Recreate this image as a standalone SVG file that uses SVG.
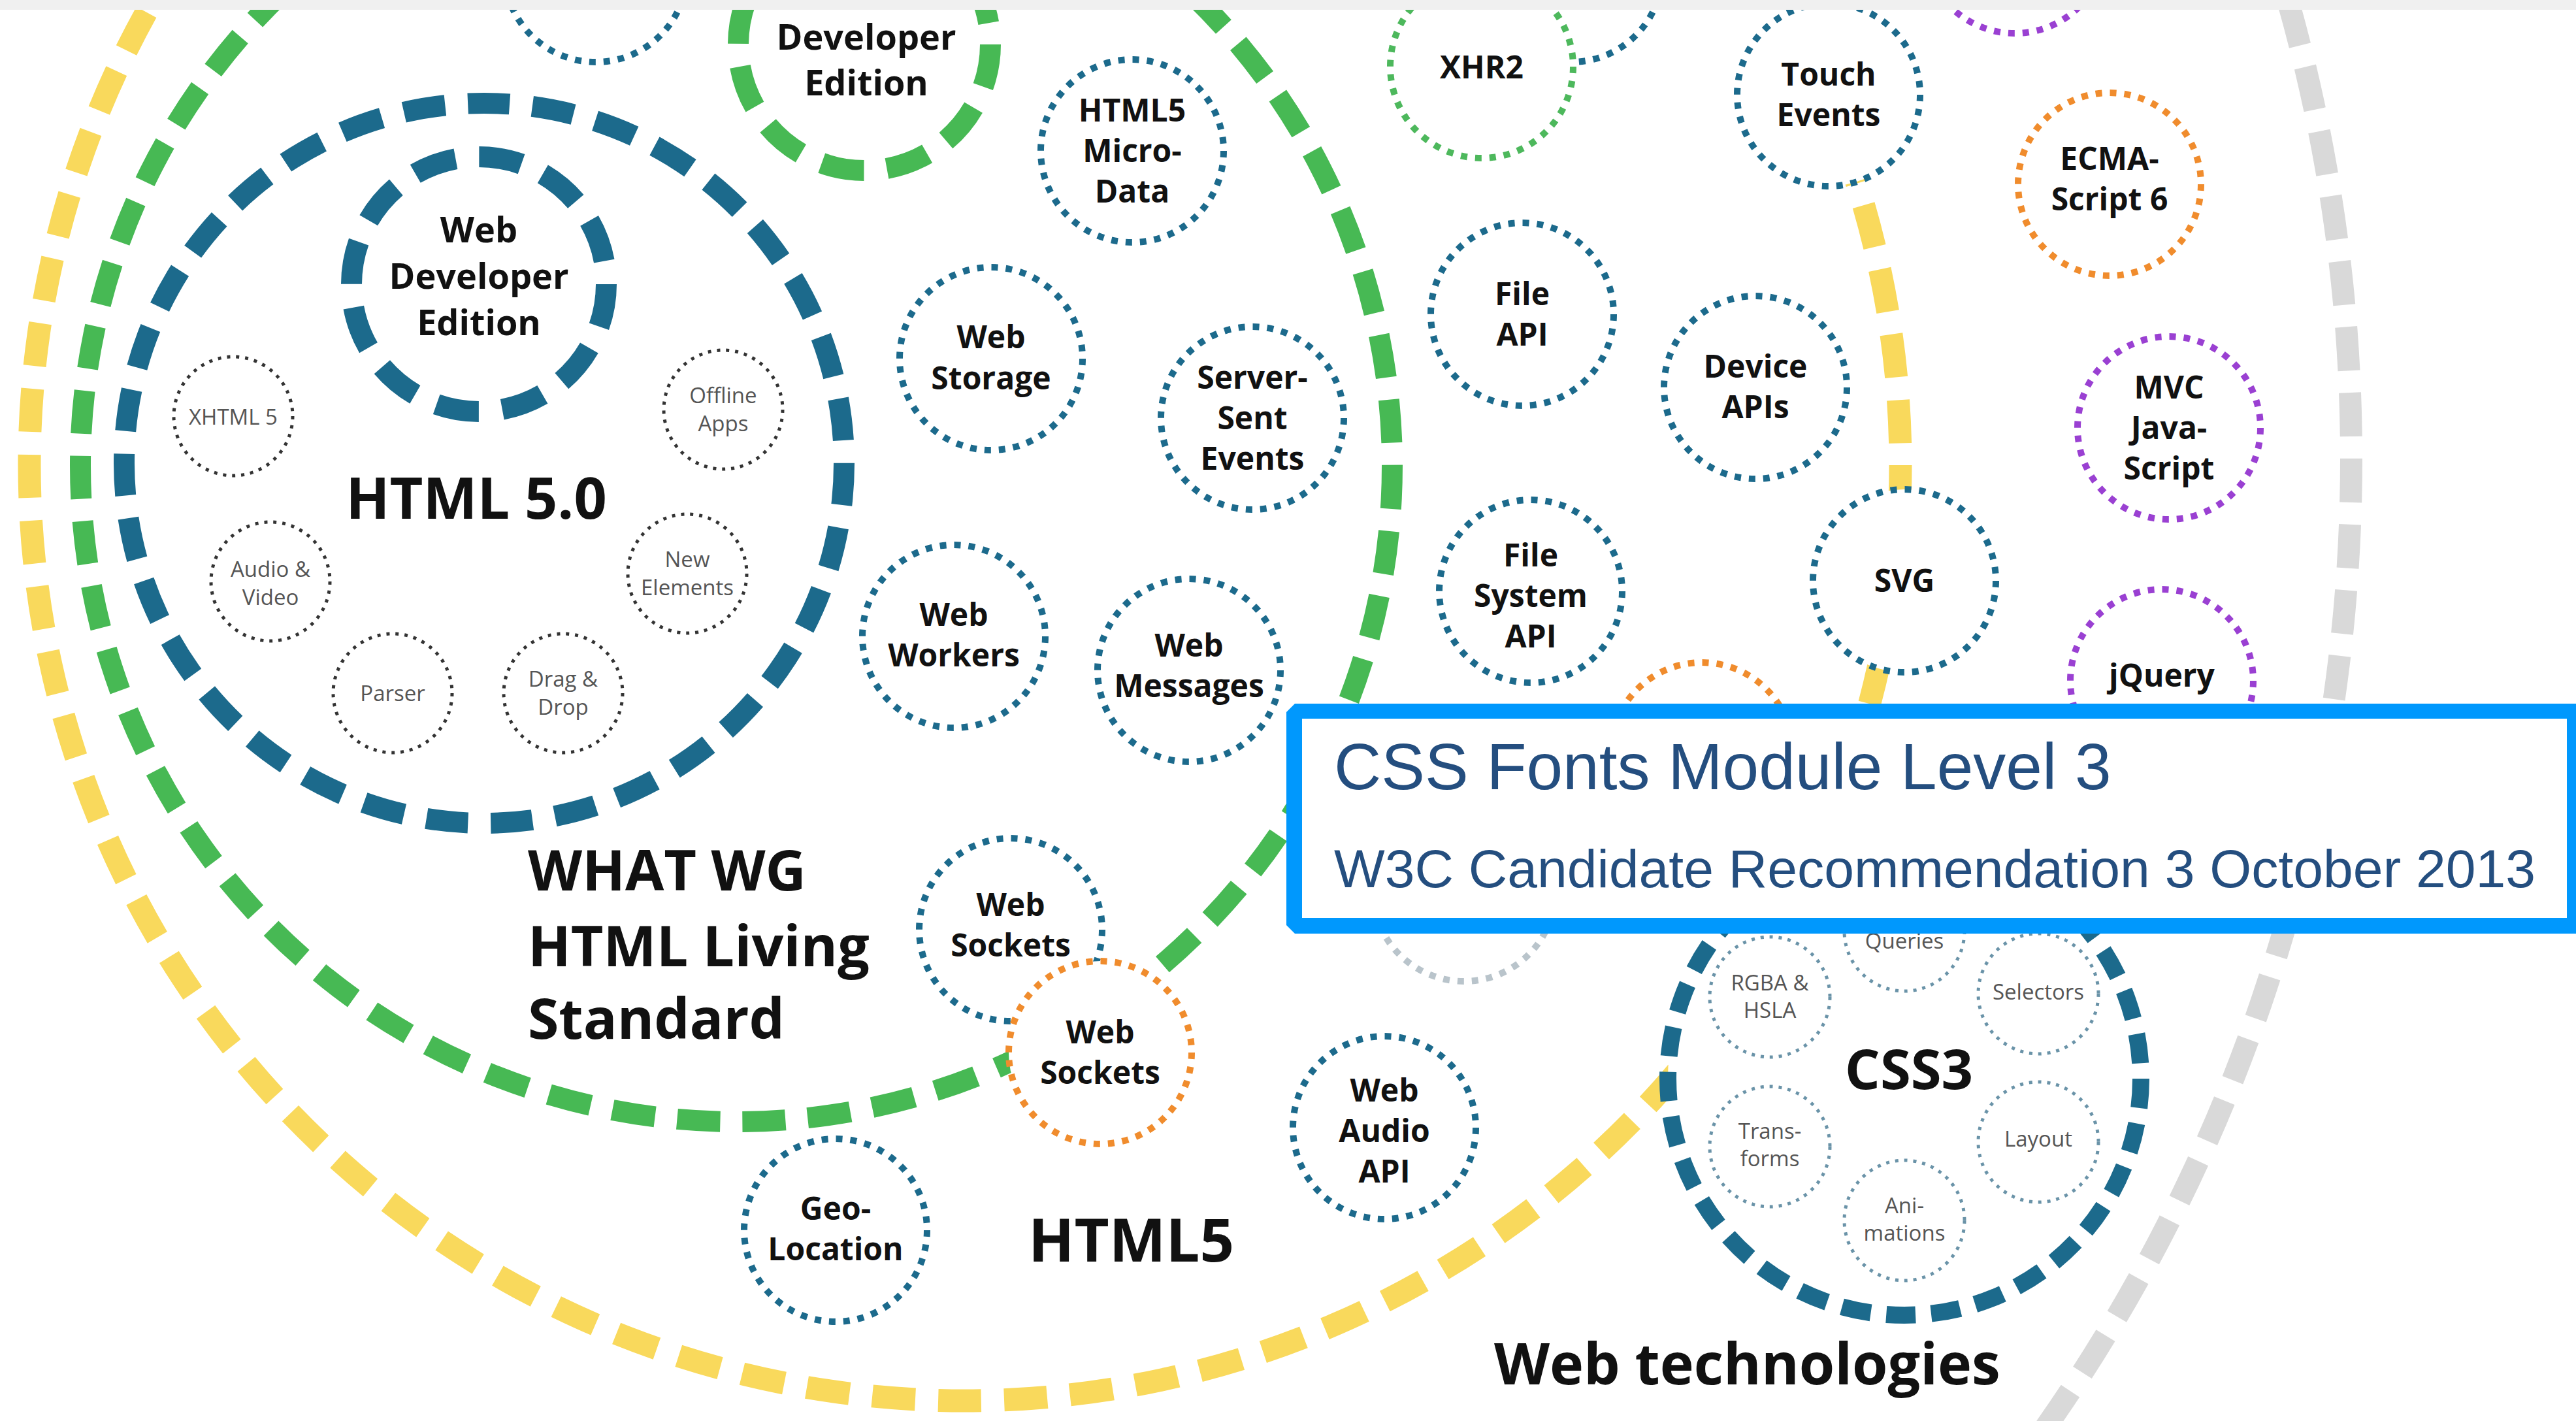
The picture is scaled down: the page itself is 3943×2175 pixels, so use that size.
<svg xmlns="http://www.w3.org/2000/svg" width="3943" height="2175" viewBox="0 0 3943 2175">
<style>
.lbl{font-family:"Open Sans","Noto Sans","DejaVu Sans",sans-serif;font-weight:700;fill:#111;text-anchor:middle;font-size:48px}
.big{font-size:54px}
.sm{font-family:"Open Sans","Noto Sans","DejaVu Sans",sans-serif;font-weight:400;fill:#555;text-anchor:middle;font-size:33px}
.title{font-family:"Open Sans","Noto Sans","DejaVu Sans",sans-serif;font-weight:700;fill:#111}
.ring{fill:none}
.dotm{fill:#fff;stroke-width:10;stroke-dasharray:10 12}
.blue{stroke:#1c6a8c}
.green{stroke:#4db85c}
.orange{stroke:#f08c2d}
.purple{stroke:#9a40d2}
.lgray{stroke:#b9c4cb}
.dots{fill:#fff;stroke:#333;stroke-width:5;stroke-dasharray:5 8.95}
.dotc{fill:#fff;stroke:#6a93a8;stroke-width:5;stroke-dasharray:5 8.95}
.boxt{font-family:"Liberation Sans",Arial,sans-serif;fill:#244e7f}
</style>
<rect x="0" y="0" width="3943" height="2175" fill="#fff"/>

<g id="ring-web-technologies">
<circle class="ring" cx="1016" cy="702" r="2583" stroke="#d9d9d9" stroke-width="34" stroke-dasharray="67 33.8"/>
<text class="title" x="2287" y="2119" font-size="88">Web technologies</text>
</g>
<g id="ring-html5">
<circle class="ring" cx="1477" cy="712" r="1432" stroke="#f9d95c" stroke-width="35" stroke-dasharray="66 35.1"/>
<text class="title" x="1574" y="1931" font-size="92">HTML5</text>
</g>
<g id="ring-whatwg">
<circle class="ring" cx="1127" cy="713" r="1004" stroke="#47b954" stroke-width="32" stroke-dasharray="66 34.1"/>
<text class="title" font-size="86"><tspan x="808" y="1363">WHAT WG</tspan><tspan x="808" y="1479">HTML Living</tspan><tspan x="808" y="1590">Standard</tspan></text>
</g>

<g id="node-html50">
<circle cx="741" cy="709" r="551" fill="#fff" stroke="#1c6a8c" stroke-width="32" stroke-dasharray="64 34.9"/>
<text class="title" x="729" y="794" font-size="88" text-anchor="middle">HTML 5.0</text>
</g>
<g id="node-web-developer-edition">
<circle cx="733" cy="435" r="195" fill="#fff" stroke="#1c6a8c" stroke-width="32" stroke-dasharray="66 36.1"/>
<text class="lbl big"><tspan x="733" y="371">Web</tspan><tspan x="733" y="442">Developer</tspan><tspan x="733" y="513">Edition</tspan></text>
</g>
<g id="node-xhtml5"><circle class="dots" cx="357" cy="637" r="91"/><text class="sm" x="357" y="650">XHTML 5</text></g>
<g id="node-offline-apps"><circle class="dots" cx="1107" cy="627" r="91"/><text class="sm"><tspan x="1107" y="617">Offline</tspan><tspan x="1107" y="660">Apps</tspan></text></g>
<g id="node-audio-video"><circle class="dots" cx="414" cy="890" r="91"/><text class="sm"><tspan x="414" y="883">Audio &amp;</tspan><tspan x="414" y="926">Video</tspan></text></g>
<g id="node-new-elements"><circle class="dots" cx="1052" cy="878" r="91"/><text class="sm"><tspan x="1052" y="868">New</tspan><tspan x="1052" y="911">Elements</tspan></text></g>
<g id="node-parser"><circle class="dots" cx="601" cy="1061" r="91"/><text class="sm" x="601" y="1073">Parser</text></g>
<g id="node-drag-drop"><circle class="dots" cx="862" cy="1061" r="91"/><text class="sm"><tspan x="862" y="1051">Drag &amp;</tspan><tspan x="862" y="1094">Drop</tspan></text></g>

<g id="node-developer-edition">
<circle cx="1323" cy="68" r="193" fill="#fff" stroke="#47b954" stroke-width="32" stroke-dasharray="66 35.2"/>
<text class="lbl big"><tspan x="1326" y="76">Developer</tspan><tspan x="1326" y="146">Edition</tspan></text>
</g>
<g id="node-top-partial"><circle class="dotm blue" cx="912" cy="-45" r="140"/></g>
<g id="node-micro-data"><circle class="dotm blue" cx="1733" cy="231" r="140"/><text class="lbl"><tspan x="1733" y="186">HTML5</tspan><tspan x="1733" y="248">Micro-</tspan><tspan x="1733" y="310">Data</tspan></text></g>
<g id="node-top-partial-2"><circle class="dotm blue" cx="2405" cy="-45" r="140"/></g>
<g id="node-xhr2"><circle class="dotm green" cx="2268" cy="102" r="140"/><text class="lbl" x="2268" y="120">XHR2</text></g>
<g id="node-touch-events"><circle class="dotm blue" cx="2799" cy="145" r="140"/><text class="lbl"><tspan x="2799" y="131">Touch</tspan><tspan x="2799" y="193">Events</tspan></text></g>
<g id="node-top-partial-3"><circle class="dotm purple" cx="3084" cy="-89" r="140"/></g>
<g id="node-ecmascript6"><circle class="dotm orange" cx="3229" cy="282" r="140"/><text class="lbl"><tspan x="3229" y="260">ECMA-</tspan><tspan x="3229" y="322">Script 6</tspan></text></g>
<g id="node-web-storage"><circle class="dotm blue" cx="1517" cy="549" r="140"/><text class="lbl"><tspan x="1517" y="533">Web</tspan><tspan x="1517" y="596">Storage</tspan></text></g>
<g id="node-server-sent-events"><circle class="dotm blue" cx="1917" cy="640" r="140"/><text class="lbl"><tspan x="1917" y="595">Server-</tspan><tspan x="1917" y="657">Sent</tspan><tspan x="1917" y="719">Events</tspan></text></g>
<g id="node-file-api"><circle class="dotm blue" cx="2330" cy="481" r="140"/><text class="lbl"><tspan x="2330" y="467">File</tspan><tspan x="2330" y="529">API</tspan></text></g>
<g id="node-device-apis"><circle class="dotm blue" cx="2687" cy="593" r="140"/><text class="lbl"><tspan x="2687" y="578">Device</tspan><tspan x="2687" y="640">APIs</tspan></text></g>
<g id="node-mvc-javascript"><circle class="dotm purple" cx="3320" cy="655" r="140"/><text class="lbl"><tspan x="3320" y="610">MVC</tspan><tspan x="3320" y="672">Java-</tspan><tspan x="3320" y="734">Script</tspan></text></g>
<g id="node-file-system-api"><circle class="dotm blue" cx="2343" cy="905" r="140"/><text class="lbl"><tspan x="2343" y="867">File</tspan><tspan x="2343" y="929">System</tspan><tspan x="2343" y="991">API</tspan></text></g>
<g id="node-svg"><circle class="dotm blue" cx="2915" cy="889" r="140"/><text class="lbl" x="2915" y="906">SVG</text></g>
<g id="node-jquery"><circle class="dotm purple" cx="3309" cy="1042" r="140"/><text class="lbl" x="3309" y="1051">jQuery</text></g>
<g id="node-web-workers"><circle class="dotm blue" cx="1460" cy="974" r="140"/><text class="lbl"><tspan x="1460" y="958">Web</tspan><tspan x="1460" y="1020">Workers</tspan></text></g>
<g id="node-web-messages"><circle class="dotm blue" cx="1820" cy="1026" r="140"/><text class="lbl"><tspan x="1820" y="1005">Web</tspan><tspan x="1820" y="1067">Messages</tspan></text></g>
<g id="node-hidden-orange"><circle class="dotm orange" cx="2605" cy="1154" r="140"/></g>
<g id="node-hidden-gray"><circle class="dotm lgray" cx="2241" cy="1362" r="140"/></g>
<g id="node-web-sockets"><circle class="dotm blue" cx="1547" cy="1423" r="140"/><text class="lbl"><tspan x="1547" y="1402">Web</tspan><tspan x="1547" y="1464">Sockets</tspan></text></g>
<g id="node-web-sockets-2"><circle class="dotm orange" cx="1684" cy="1611" r="140"/><text class="lbl"><tspan x="1684" y="1597">Web</tspan><tspan x="1684" y="1659">Sockets</tspan></text></g>
<g id="node-geolocation"><circle class="dotm blue" cx="1279" cy="1883" r="140"/><text class="lbl"><tspan x="1279" y="1867">Geo-</tspan><tspan x="1279" y="1929">Location</tspan></text></g>
<g id="node-web-audio-api"><circle class="dotm blue" cx="2119" cy="1726" r="140"/><text class="lbl"><tspan x="2119" y="1686">Web</tspan><tspan x="2119" y="1748">Audio</tspan><tspan x="2119" y="1810">API</tspan></text></g>

<g id="node-css3">
<circle cx="2915" cy="1651" r="362" fill="#fff" stroke="#1c6a8c" stroke-width="26" stroke-dasharray="45 23.9"/>
<text class="title" x="2922" y="1667" font-size="85" text-anchor="middle">CSS3</text>
</g>
<g id="node-rgba-hsla"><circle class="dotc" cx="2709" cy="1526" r="92"/><text class="sm"><tspan x="2709" y="1516">RGBA &amp;</tspan><tspan x="2709" y="1558">HSLA</tspan></text></g>
<g id="node-media-queries"><circle class="dotc" cx="2915" cy="1425" r="92"/><text class="sm"><tspan x="2915" y="1410">Media</tspan><tspan x="2915" y="1452">Queries</tspan></text></g>
<g id="node-selectors"><circle class="dotc" cx="3120" cy="1521" r="92"/><text class="sm" x="3120" y="1530">Selectors</text></g>
<g id="node-transforms"><circle class="dotc" cx="2709" cy="1755" r="92"/><text class="sm"><tspan x="2709" y="1743">Trans-</tspan><tspan x="2709" y="1785">forms</tspan></text></g>
<g id="node-layout"><circle class="dotc" cx="3120" cy="1748" r="92"/><text class="sm" x="3120" y="1755">Layout</text></g>
<g id="node-animations"><circle class="dotc" cx="2915" cy="1868" r="92"/><text class="sm"><tspan x="2915" y="1857">Ani-</tspan><tspan x="2915" y="1899">mations</tspan></text></g>

<g id="connectors"></g>

<g id="callout">
<path d="M1982 1077 H3943 V1429 H1982 L1969 1416 V1090 Z" fill="#0098fd"/>
<rect x="1993" y="1100" width="1936" height="305" fill="#fff"/>
<text class="boxt" x="2042" y="1208" font-size="100">CSS Fonts Module Level 3</text>
<text class="boxt" x="2042" y="1358" font-size="82.3">W3C Candidate Recommendation 3 October 2013</text>
</g>
<rect x="0" y="0" width="3943" height="15" fill="#f0f0f0"/>
</svg>
